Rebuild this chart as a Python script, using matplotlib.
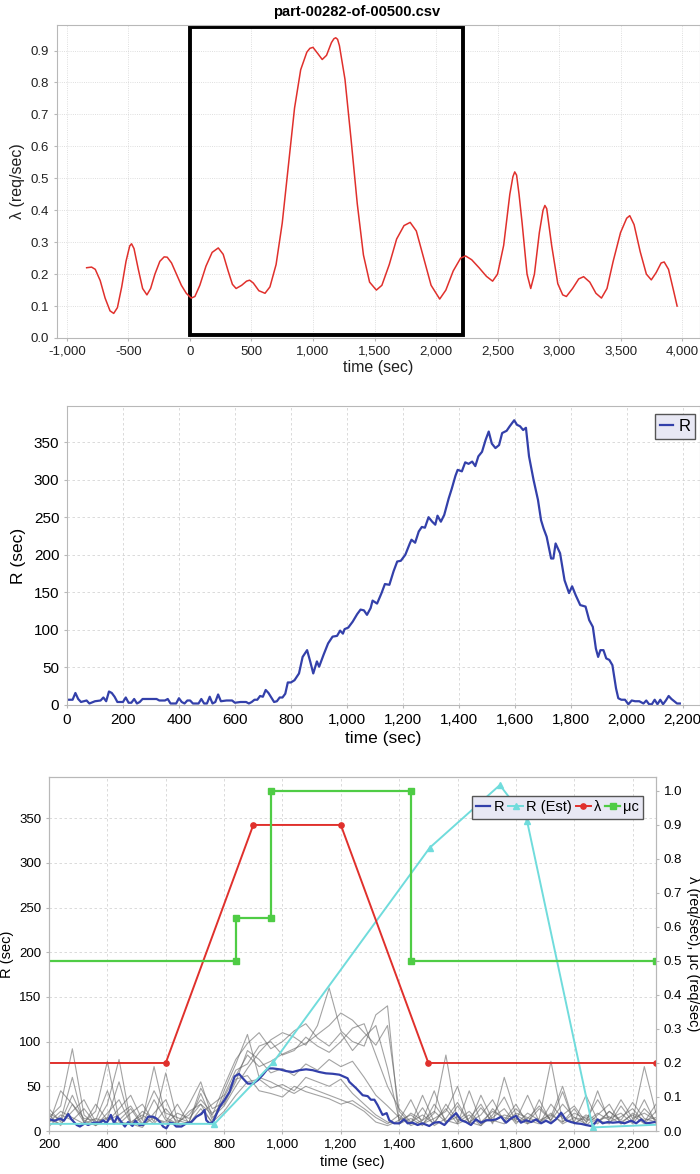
import numpy as np
import matplotlib.pyplot as plt
from matplotlib.patches import Rectangle
from matplotlib.lines import Line2D
from matplotlib.ticker import FuncFormatter, MultipleLocator

plt.rcParams['font.family'] = ['Liberation Sans', 'DejaVu Sans']

# ---- panel 1: arrival rate of the trace ----
t_lam = [-840, -800, -770, -730, -690, -650, -620, -590, -555, -520,
         -490, -475, -455, -420, -385, -350, -320, -285, -245, -210,
         -185, -150, -110, -70, -30, 10, 40, 80, 130, 180,
         230, 270, 310, 345, 375, 420, 460, 485, 515, 560,
         610, 650, 700, 750, 800, 850, 900, 950, 975, 1000, 1040,
         1075, 1110, 1150, 1170, 1185, 1200, 1215, 1260, 1310, 1360, 1410, 1460,
         1515, 1560, 1620, 1680, 1740, 1790, 1840, 1900, 1960, 2030,
         2080, 2140, 2200, 2240, 2290, 2350, 2410, 2460, 2500, 2550,
         2600, 2625, 2640, 2655, 2675, 2700, 2740, 2770, 2800, 2840, 2870, 2885, 2900,
         2940, 2990, 3030, 3060, 3110, 3160, 3200, 3250, 3300, 3345,
         3390, 3440, 3500, 3550, 3575, 3610, 3660, 3710, 3750, 3790,
         3830, 3855, 3890, 3930, 3960]
lam = [0.220, 0.222, 0.215, 0.180, 0.125, 0.085, 0.077, 0.095, 0.160, 0.240,
       0.288, 0.295, 0.280, 0.215, 0.155, 0.135, 0.155, 0.200, 0.240, 0.254,
       0.253, 0.235, 0.200, 0.165, 0.140, 0.125, 0.130, 0.165, 0.225, 0.268,
       0.282, 0.262, 0.210, 0.168, 0.155, 0.165, 0.178, 0.181, 0.172, 0.148,
       0.140, 0.160, 0.230, 0.360, 0.540, 0.720, 0.840, 0.895, 0.907, 0.910, 0.890,
       0.872, 0.885, 0.925, 0.937, 0.940, 0.935, 0.915, 0.810, 0.620, 0.420, 0.260, 0.175,
       0.150, 0.165, 0.230, 0.310, 0.352, 0.362, 0.335, 0.250, 0.165, 0.122,
       0.150, 0.210, 0.250, 0.257, 0.245, 0.220, 0.193, 0.178, 0.200, 0.290,
       0.450, 0.505, 0.520, 0.510, 0.450, 0.360, 0.200, 0.155, 0.200, 0.330, 0.400, 0.415, 0.405,
       0.290, 0.170, 0.135, 0.130, 0.155, 0.185, 0.192, 0.175, 0.140, 0.125,
       0.155, 0.240, 0.330, 0.375, 0.383, 0.355, 0.270, 0.200, 0.182, 0.205,
       0.235, 0.238, 0.215, 0.150, 0.100]
box_t = [0, 2220]
box_lam = [0.01, 0.975]

# ---- panel 2: measured response time ----
t_r = [0, 20, 30, 40, 50, 70, 80, 100, 120, 130, 140, 150, 160, 170, 180,
       200, 210, 220, 230, 240, 250, 260, 270, 300, 320, 330, 350, 360, 370,
       390, 400, 410, 420, 430, 440, 450, 470, 480, 490, 500, 510, 520, 530,
       540, 550, 570, 590, 600, 620, 640, 650, 660, 670, 680, 690, 700, 710,
       720, 730, 740, 750, 760, 770, 780, 789, 800, 813, 829, 842, 858, 869,
       880, 893, 901, 917, 933, 949, 965, 976, 986, 992, 1005, 1021, 1037,
       1049, 1061, 1072, 1085, 1092, 1108, 1124, 1136, 1152, 1167, 1180,
       1193, 1209, 1225, 1231, 1244, 1257, 1268, 1279, 1292, 1305, 1316,
       1324, 1336, 1348, 1364, 1375, 1388, 1396, 1411, 1423, 1435, 1448,
       1459, 1470, 1483, 1496, 1507, 1518, 1531, 1544, 1555, 1571, 1582,
       1598, 1608, 1619, 1630, 1640, 1651, 1667, 1683, 1694, 1703, 1714,
       1730, 1738, 1746, 1762, 1778, 1794, 1805, 1818, 1834, 1853, 1866,
       1879, 1890, 1898, 1906, 1917, 1927, 1938, 1949, 1962, 1970, 1981,
       1994, 2006, 2018, 2030, 2045, 2060, 2070, 2080, 2090, 2100, 2110,
       2120, 2130, 2140, 2150, 2160, 2170, 2180, 2190]
r_vals = [7, 7, 16, 8, 4, 6, 2, 5, 6, 10, 5, 18, 16, 11, 4,
          4, 10, 3, 3, 8, 2, 4, 8, 8, 8, 6, 6, 8, 2,
          2, 9, 4, 2, 6, 6, 2, 2, 8, 2, 2, 11, 2, 4,
          14, 5, 6, 6, 3, 4, 4, 2, 4, 7, 7, 12, 11, 20,
          16, 10, 4, 5, 10, 10, 15, 30, 30, 33, 42, 64, 73, 58,
          42, 58, 51, 67, 82, 91, 92, 99, 95, 101, 103, 111, 121,
          127, 126, 120, 129, 139, 135, 149, 161, 160, 178, 191,
          192, 200, 215, 220, 216, 231, 237, 236, 250, 244, 240,
          252, 244, 253, 275, 288, 305, 313, 311, 323, 321, 324,
          318, 331, 337, 353, 364, 348, 342, 346, 362, 365, 371,
          379, 373, 371, 366, 369, 331, 300, 273, 246, 235, 224,
          195, 195, 215, 202, 166, 149, 158, 146, 133, 131, 113,
          104, 75, 64, 73, 73, 62, 60, 53, 22, 9, 7,
          7, 1, 6, 5, 5, 2, 6, 1, 1, 7, 1,
          7, 1, 6, 12, 8, 5, 2, 2]

# ---- panel 3: replicated runs, mean, estimate, rate profiles ----
t_mean = [203, 220, 238, 251, 266, 277, 295, 306, 323, 334, 352, 374, 386,
          397, 412, 423, 434, 448, 460, 471, 486, 496, 509, 522, 540, 557,
          568, 580, 591, 602, 614, 625, 636, 654, 671, 688, 705, 722, 733,
          739, 750, 762, 773, 785, 802, 819, 836, 851, 864, 881, 899, 916,
          933, 950, 967, 990, 1013, 1035, 1058, 1081, 1104, 1126, 1149, 1172,
          1195, 1223, 1229, 1252, 1275, 1292, 1303, 1315, 1326, 1343, 1357,
          1366, 1383, 1400, 1417, 1429, 1446, 1463, 1480, 1503, 1520, 1537,
          1555, 1572, 1595, 1612, 1629, 1646, 1663, 1680, 1698, 1715, 1732,
          1749, 1766, 1783, 1800, 1817, 1835, 1852, 1869, 1886, 1903, 1920,
          1937, 1955, 1972, 1989, 2006, 2023, 2040, 2057, 2069, 2080, 2097,
          2114, 2132, 2155, 2172, 2195, 2212, 2229, 2246, 2263, 2275]
r_mean = [13, 11.5, 14, 11.5, 19, 13, 6.7, 5, 8.6, 6.7, 9.3, 9.3, 12,
          8.6, 18, 8.6, 16, 10, 5, 10, 5.6, 11.5, 6.7, 6.7, 16, 16,
          14, 10, 5, 3, 9.3, 8.6, 5, 5, 8.6, 10, 16, 19, 23.5,
          12, 8.6, 10, 18, 27, 35, 44, 61, 64, 59, 53, 53, 57,
          63, 70, 70, 69, 67, 66, 68, 69, 68, 66, 64.5, 64,
          63, 59, 55, 48, 40, 39, 35, 35, 29, 18, 20,
          12, 8.6, 8.6, 13, 8.6, 9.3, 6.7, 8.6, 5.6, 9.3, 10,
          6.7, 13, 20, 12, 10, 6.7, 13, 9.3, 12, 12, 13,
          16, 9.3, 14, 17, 9.3, 12, 10, 13, 8.6, 11.5, 8.6,
          13, 20.5, 12, 10, 8.6, 8, 6.7, 5.6, 8, 13, 8.6,
          10, 9.3, 10, 8.6, 11.5, 8.6, 13, 8.6, 9.3, 10]

t_est = [200, 767, 969, 1505, 1745, 1838, 2063, 2280]
r_est = [8, 8, 77, 317, 387, 347, 4, 7]

t_lam_step = [200, 600, 900, 1200, 1500, 2280]
lam_step = [0.2, 0.2, 0.9, 0.9, 0.2, 0.2]

t_mu = [200, 840, 840, 960, 960, 1440, 1440, 2280]
mu_c = [0.5, 0.5, 0.625, 0.625, 1.0, 1.0, 0.5, 0.5]

t_runs = [200, 240, 280, 320, 360, 400, 440, 480, 520, 560,
          600, 640, 680, 720, 760, 800, 840, 880, 920, 960,
          1000, 1040, 1080, 1120, 1160, 1200, 1240, 1280, 1320, 1360,
          1400, 1440, 1480, 1520, 1560, 1600, 1640, 1680, 1720, 1760,
          1800, 1840, 1880, 1920, 1960, 2000, 2040, 2080, 2120, 2160,
          2200, 2240, 2280]
run_1 = [15, 28, 92, 18, 6, 14, 55, 8, 4, 20,
         35, 6, 10, 42, 12, 38, 62, 85, 72, 78,
         86, 92, 98, 108, 118, 132, 124, 110, 96, 118,
         22, 8, 26, 6, 14, 32, 10, 6, 18, 38,
         10, 14, 28, 12, 44, 8, 16, 10, 22, 12,
         32, 14, 10]
run_2 = [8, 45, 30, 10, 22, 78, 12, 25, 6, 15,
         8, 20, 14, 30, 8, 45, 75, 108, 60, 55,
         48, 42, 50, 45, 40, 35, 30, 22, 10, 6,
         12, 35, 8, 20, 85, 10, 18, 6, 25, 12,
         30, 8, 14, 78, 10, 25, 6, 18, 30, 8,
         12, 72, 20]
run_3 = [20, 12, 60, 8, 14, 10, 25, 40, 12, 72,
         15, 8, 30, 55, 15, 28, 50, 70, 88, 102,
         110, 105, 96, 118, 160, 112, 100, 95, 130, 140,
         8, 14, 6, 30, 12, 8, 45, 10, 22, 15,
         12, 40, 10, 20, 8, 15, 12, 35, 14, 20,
         8, 25, 12]
run_4 = [5, 18, 12, 25, 8, 30, 80, 10, 18, 8,
         25, 10, 18, 35, 20, 30, 55, 90, 80, 65,
         70, 62, 75, 68, 80, 72, 78, 60, 40, 28,
         15, 8, 40, 10, 25, 8, 14, 30, 8, 60,
         18, 10, 25, 12, 30, 15, 8, 45, 10, 16,
         25, 10, 30]
run_5 = [12, 8, 22, 35, 10, 15, 8, 20, 30, 10,
         65, 12, 8, 20, 30, 40, 68, 75, 95, 100,
         85, 90, 105, 95, 88, 100, 115, 120, 85, 50,
         25, 10, 18, 8, 30, 12, 22, 8, 15, 25,
         8, 20, 12, 18, 10, 20, 14, 8, 22, 10,
         18, 8, 22]
run_6 = [25, 10, 40, 12, 6, 20, 35, 8, 22, 14,
         10, 30, 8, 25, 10, 22, 40, 55, 58, 48,
         52, 45, 60, 55, 50, 58, 42, 30, 18, 10,
         8, 20, 12, 45, 8, 28, 10, 18, 35, 10,
         25, 12, 8, 30, 14, 10, 40, 12, 8, 28,
         10, 35, 8]
run_7 = [10, 22, 15, 8, 30, 12, 18, 28, 8, 35,
         12, 8, 22, 30, 18, 50, 80, 98, 110, 92,
         100, 112, 120, 104, 95, 110, 90, 105, 118, 70,
         12, 18, 8, 14, 22, 50, 8, 26, 10, 18,
         14, 8, 35, 10, 18, 28, 10, 20, 12, 35,
         14, 20, 12]
run_8 = [18, 6, 30, 14, 12, 45, 10, 8, 15, 45,
         20, 15, 10, 48, 25, 32, 58, 62, 45, 42,
         38, 50, 44, 40, 36, 30, 34, 25, 15, 8,
         18, 6, 12, 22, 10, 16, 8, 40, 12, 8,
         20, 15, 10, 16, 50, 8, 18, 12, 16, 8,
         20, 12, 15]
runs = [run_1, run_2, run_3, run_4, run_5, run_6, run_7, run_8]

RED = '#e0302c'
GREEN = '#4fcc45'
BLUE = '#3340aa'
CYAN = '#70dcdc'
FRAME = '#b8b8b8'

comma = FuncFormatter(lambda v, p: f'{v:,.0f}')


def style_axes(ax, grid_ls):
    for s in ax.spines.values():
        s.set_color(FRAME)
    ax.tick_params(length=2, color=FRAME)
    ax.grid(True, color='#d4d4d4', linestyle=grid_ls, linewidth=0.6)
    ax.set_axisbelow(True)


fig = plt.figure(figsize=(7.0, 11.74), dpi=100)
W, H = 700.0, 1174.0


def rect(left, top, right, bottom):
    return [left / W, 1 - bottom / H, (right - left) / W, (bottom - top) / H]


# ---------- panel 1 ----------
ax1 = fig.add_axes(rect(57, 25, 700, 338))
ax1.plot(t_lam, lam, color=RED, lw=1.1)
ax1.add_patch(Rectangle((box_t[0], box_lam[0]), box_t[1] - box_t[0],
                        box_lam[1] - box_lam[0], fill=False, ec='black', lw=2.8))
ax1.set_xlim(-1081, 4146)
ax1.set_ylim(0, 0.98)
ax1.xaxis.set_major_locator(MultipleLocator(500))
ax1.yaxis.set_major_locator(MultipleLocator(0.1))
ax1.xaxis.set_major_formatter(comma)
ax1.yaxis.set_major_formatter(FuncFormatter(lambda v, p: f'{v:.1f}'))
style_axes(ax1, ':')
ax1.tick_params(labelsize=9.5, labelcolor='#222222')
ax1.set_xlabel('time (sec)', fontsize=11.5, color='#222222', labelpad=2)
ax1.set_ylabel('λ (req/sec)', fontsize=11.5, color='#222222', labelpad=4)
fig.text(357 / W, 1 - 12 / H, 'part-00282-of-00500.csv', ha='center', va='center',
         fontsize=10.5, fontweight='bold')

# ---------- panel 2 ----------
ax2 = fig.add_axes(rect(67, 406, 700, 705))
ax2.plot(t_r, r_vals, color=BLUE, lw=1.6, label='R')
ax2.set_xlim(0, 2262)
ax2.set_ylim(0, 398)
ax2.xaxis.set_major_locator(MultipleLocator(200))
ax2.yaxis.set_major_locator(MultipleLocator(50))
ax2.xaxis.set_major_formatter(comma)
style_axes(ax2, (0, (3, 3)))
ax2.tick_params(labelsize=11)
ax2.set_xlabel('time (sec)', fontsize=12.5, labelpad=3)
ax2.set_ylabel('R (sec)', fontsize=12.5, labelpad=6)
leg2 = ax2.legend(loc='upper left', bbox_to_anchor=(0.929, 0.973), fontsize=12,
                  handlelength=0.8, handletextpad=0.3, borderpad=0.3,
                  borderaxespad=0, fancybox=False, framealpha=1)
leg2.get_frame().set_facecolor('#e8e8f4')
leg2.get_frame().set_edgecolor('#555555')

# ---------- panel 3 ----------
ax3 = fig.add_axes(rect(49, 777, 656, 1131))
for run in runs:
    ax3.plot(t_runs, run, color='#666666', lw=0.8, alpha=0.6)
ax3.plot(t_mean, r_mean, color=BLUE, lw=1.6)
ax3.plot(t_est, r_est, color=CYAN, lw=1.4, marker='^', ms=4,
         markevery=[1, 2, 3, 4, 5, 6])
ax3.set_xlim(200, 2280)
ax3.set_ylim(0, 396)
ax3.xaxis.set_major_locator(MultipleLocator(200))
ax3.yaxis.set_major_locator(MultipleLocator(50))
ax3.xaxis.set_major_formatter(comma)
style_axes(ax3, (0, (3, 3)))
ax3.tick_params(labelsize=9.5)
ax3.set_xlabel('time (sec)', fontsize=10.5, labelpad=3)
ax3.set_ylabel('R (sec)', fontsize=10.5, labelpad=4)

ax4 = ax3.twinx()
ax4.plot(t_lam_step, lam_step, color=RED, lw=1.4, marker='o', ms=3.8,
         markevery=[1, 2, 3, 4, 5])
ax4.plot(t_mu, mu_c, color=GREEN, lw=1.6, marker='s', ms=3.8,
         markevery=[1, 2, 3, 4, 5, 6, 7])
ax4.set_ylim(0, 1.041)
ax4.yaxis.set_major_locator(MultipleLocator(0.1))
ax4.yaxis.set_major_formatter(FuncFormatter(lambda v, p: f'{v:.1f}'))
for s in ax4.spines.values():
    s.set_color(FRAME)
ax4.tick_params(length=2, color=FRAME, labelsize=9.5)
ax4.set_ylabel('λ (req/sec), μc (req/sec)', fontsize=10.5, rotation=270, labelpad=13)

handles = [Line2D([], [], color=BLUE, lw=1.6),
           Line2D([], [], color=CYAN, lw=1.4, marker='^', ms=4),
           Line2D([], [], color=RED, lw=1.4, marker='o', ms=3.8),
           Line2D([], [], color=GREEN, lw=1.6, marker='s', ms=3.8)]
leg3 = ax4.legend(handles, ['R', 'R (Est)', 'λ', 'μc'], loc='upper right',
                  bbox_to_anchor=(0.9786, 0.946), ncol=4, fontsize=10.5,
                  handlelength=1.0, handletextpad=0.2, columnspacing=0.3,
                  borderpad=0.3, borderaxespad=0, fancybox=False, framealpha=1)
leg3.get_frame().set_facecolor('#e8e8f4')
leg3.get_frame().set_edgecolor('#555555')

fig.savefig('out.png', dpi=100)
